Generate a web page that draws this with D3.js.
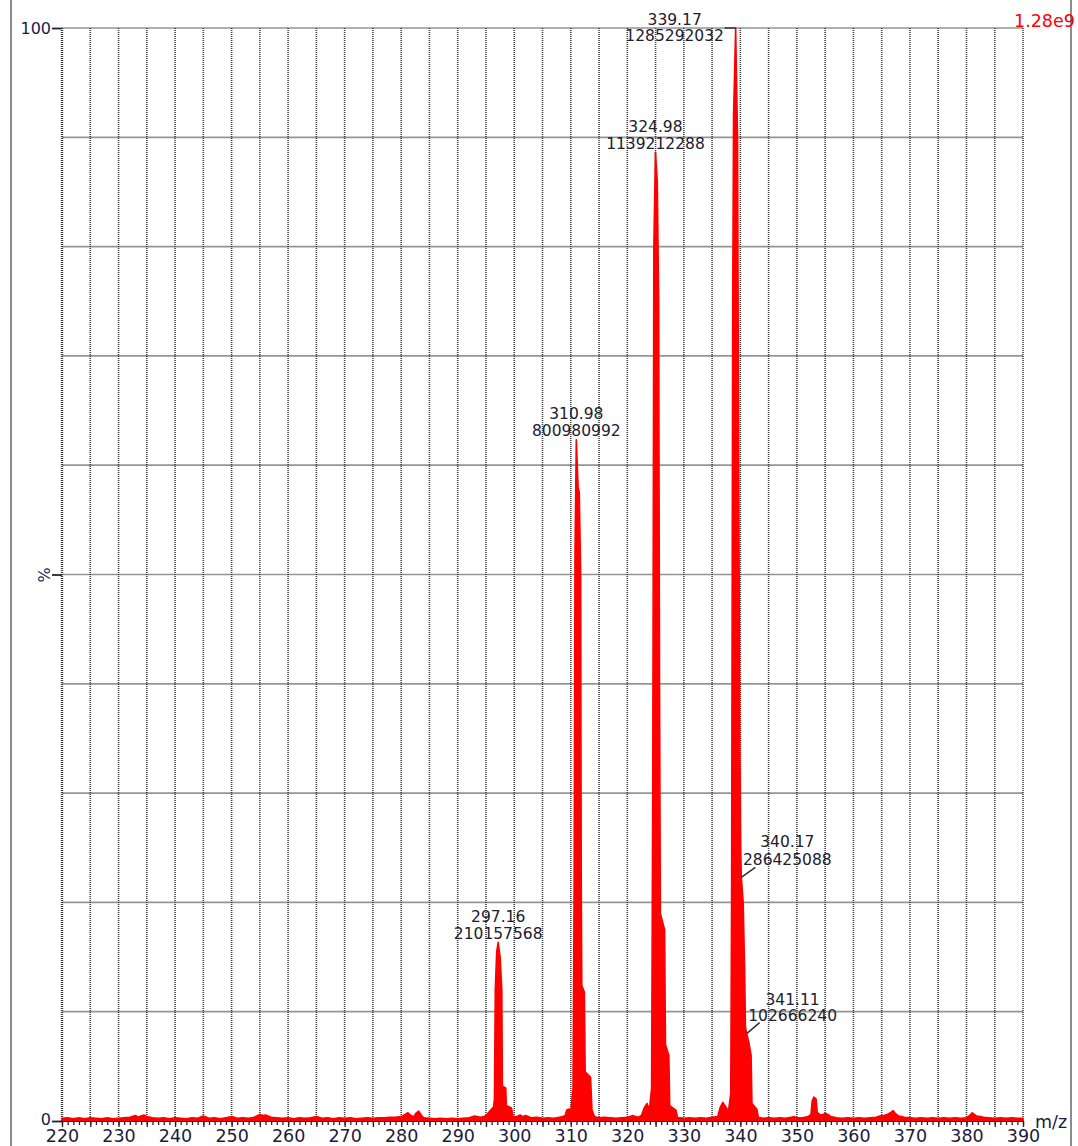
<!DOCTYPE html>
<html>
<head>
<meta charset="utf-8">
<script src="https://cdn.jsdelivr.net/npm/d3@7"></script>
<style>
  html, body { margin: 0; padding: 0; background: #ffffff; }
  svg { display: block; }
  text { font-family: "DejaVu Sans", Verdana, sans-serif; }
</style>
</head>
<body>
<svg id="chart" width="1078" height="1146"></svg>
<script>
// ---- Spectrum data (m/z, relative intensity %) ----
const basePeakIntensity = 1285292032;
const basePeakLabel = "1.28e9";

// Labelled centroid peaks: m/z and absolute intensity
const peakMz = [297.16, 310.98, 324.98, 339.17, 340.17, 341.11];
const peakIntensity = [210157568, 800980992, 1139212288, 1285292032, 286425088, 102666240];

// Profile trace, split into regions (apex points come from the peak list)
const baselineLow = [
  [220,0.25],[221,0.3],[222,0.2],[223,0.3],[224,0.2],[225,0.3],[226,0.25],[227,0.2],[228,0.3],[229,0.2],
  [230,0.25],[231,0.3],[232,0.35],[233,0.5],[233.5,0.35],[234,0.45],[234.5,0.55],[235,0.4],[236,0.3],[237,0.25],
  [238,0.3],[239,0.2],[240,0.3],[241,0.25],[242,0.2],[243,0.3],[244,0.25],[245,0.45],[246,0.25],[247,0.3],
  [248,0.2],[249,0.3],[250,0.4],[251,0.25],[252,0.3],[253,0.25],[254,0.35],[255,0.6],[255.5,0.5],[256,0.55],
  [257,0.35],[258,0.3],[259,0.25],[260,0.3],[261,0.2],[262,0.3],[263,0.25],[264,0.3],[265,0.4],[266,0.25],
  [267,0.3],[268,0.2],[269,0.3],[270,0.25],[271,0.3],[272,0.2],[273,0.25],[274,0.3],[275,0.25],[276,0.3],
  [277,0.3],[278,0.35],[279,0.35],[280,0.4],[280.7,0.6],[281.2,0.75],[281.7,0.5],[282.2,0.4],[282.7,0.75],[283.1,0.9],
  [283.6,0.5],[284,0.3],[285,0.25],[286,0.2],[287,0.25],[288,0.2],[289,0.25],[290,0.2],[291,0.25],[292,0.3],
  [293,0.45],[294,0.35],[294.6,0.4]
];
const cluster297 = [
  [295.0,0.5],[295.5,0.8],[296.0,1.1],[296.35,1.3],[296.5,2],[296.65,12],[296.9,15.5],
  [297.5,15],[297.8,12],[297.9,3.2],[298.5,3.0],[298.6,1.4],[299.5,1.2],[299.8,0.4]
];
const gap300 = [
  [300.5,0.4],[301,0.55],[301.5,0.4],[302,0.5],[303,0.3],[304,0.35],[305,0.25],[306,0.3],[307,0.25],[308,0.35],[308.6,0.4]
];
const cluster311 = [
  [309.0,0.5],[309.3,1.0],[309.7,1.1],[310.0,0.8],[310.4,3],[310.6,22],[310.75,52],
  [311.3,58],[311.5,57.5],[311.75,50],[311.85,22],[311.95,12.4],[312.4,11.8],[312.55,4.5],
  [313.5,4],[313.75,1.0],[314.2,0.4]
];
const gap315 = [
  [314.6,0.35],[315,0.3],[316,0.35],[317,0.3],[318,0.25],[319,0.3],[320,0.35],[321,0.5],[321.5,0.4],[322,0.35]
];
const cluster325 = [
  [322.5,0.5],[323.0,1.2],[323.5,1.6],[323.9,1.0],[324.3,3],[324.5,30],[324.7,80],
  [325.3,86],[325.55,75],[325.7,40],[325.85,19],[326.6,17.5],[326.75,7],[327.35,6],[327.5,1.4],
  [328.6,1.0],[328.9,0.3]
];
const gap330 = [
  [329.5,0.3],[330,0.25],[331,0.3],[332,0.25],[333,0.3],[334,0.25],[335,0.35]
];
const cluster339 = [
  [336.0,0.4],[336.4,1.2],[336.9,1.7],[337.4,1.3],[337.9,0.9],[338.3,2.5],[338.45,20],[338.65,75],[338.8,92],
  [339.5,90],[339.7,60],[339.9,35],[340.05,25],
  [340.5,20],[340.75,14],[340.9,8.6],
  [341.5,7.2],[341.9,6.0],[342.05,1.6],[342.9,1.1],[343.2,0.3]
];
const baselineHigh = [
  [343.6,0.3],[344,0.25],[345,0.3],[346,0.25],[347,0.3],[348,0.25],[349,0.35],[349.5,0.4],[350,0.3],[351,0.3],
  [352,0.4],[352.5,0.6],[352.7,1.8],[353.0,2.2],[353.4,2.0],[353.6,0.8],[354,0.6],[354.5,0.55],[355,0.7],[355.5,0.6],
  [356,0.4],[357,0.3],[358,0.25],[359,0.3],[360,0.25],[361,0.3],[362,0.25],[363,0.3],[364,0.35],[364.7,0.45],
  [365.3,0.5],[366,0.6],[366.7,0.8],[367.0,0.95],[367.4,0.7],[368,0.45],[368.5,0.4],[369,0.35],[370,0.3],[371,0.25],
  [372,0.3],[373,0.25],[374,0.3],[375,0.25],[376,0.3],[377,0.25],[378,0.3],[379,0.25],[380,0.3],[380.6,0.5],
  [381.0,0.75],[381.4,0.6],[381.8,0.45],[382.5,0.4],[383,0.35],[384,0.3],[385,0.25],[386,0.3],[387,0.25],[388,0.3],
  [389,0.25],[390,0.25]
];

// Axis tick values
const xLabelTicks = [220,230,240,250,260,270,280,290,300,310,320,330,340,350,360,370,380,390];
const yLabelTicks = [0, 50, 100];
const yLabelText = ["0", "%", "100"];

// ---- Layout ----
const svg = d3.select("#chart");
const W = 1078, H = 1146;
const x = d3.scaleLinear().domain([220, 390]).range([62, 1023]);
const y = d3.scaleLinear().domain([0, 100]).range([1121, 28]);

svg.append("rect").attr("width", W).attr("height", H).attr("fill", "#ffffff");

// outer frame lines
svg.append("line").attr("x1", 11).attr("x2", 11).attr("y1", 0).attr("y2", H)
  .attr("stroke", "#8c8c8c").attr("stroke-width", 2);
svg.append("line").attr("x1", 1071).attr("x2", 1071).attr("y1", 0).attr("y2", H)
  .attr("stroke", "#8c8c8c").attr("stroke-width", 2);

// grid: horizontal every 10 %, vertical dotted every 5 m/z
const grid = svg.append("g");
grid.selectAll("line.h").data(d3.range(0, 101, 10)).join("line")
  .attr("class", "h")
  .attr("x1", x(220)).attr("x2", x(390))
  .attr("y1", d => y(d)).attr("y2", d => y(d))
  .attr("stroke", "#959595").attr("stroke-width", 1.7);
grid.selectAll("line.v").data(d3.range(220, 391, 5)).join("line")
  .attr("class", "v")
  .attr("x1", d => x(d)).attr("x2", d => x(d))
  .attr("y1", y(100)).attr("y2", y(0))
  .attr("stroke", "#3c3c3c").attr("stroke-width", d => d === 220 ? 2.4 : 1.6)
  .attr("stroke-dasharray", "1,1");

// spectrum trace
const apexPoints = peakMz.map((m, i) => [m, peakIntensity[i] / basePeakIntensity * 100]);
const trace = [].concat(baselineLow, cluster297, gap300, cluster311, gap315, cluster325, gap330, cluster339, baselineHigh, apexPoints)
  .sort((a, b) => a[0] - b[0]);
const area = d3.area()
  .x(d => x(d[0]))
  .y0(y(0))
  .y1(d => y(d[1]));
svg.append("path").datum(trace)
  .attr("d", area)
  .attr("fill", "#ff0000")
  .attr("stroke", "#ff0000")
  .attr("stroke-width", 1.6)
  .attr("stroke-linejoin", "round");

// x axis: minor ticks every 1, major every 5, labels every 10
const axisColor = "#222233";
const xMinor = svg.append("g").attr("transform", `translate(0,${y(0)})`)
  .call(d3.axisBottom(x).tickValues(d3.range(220, 391, 1)).tickSize(4).tickFormat(""));
const xMajor = svg.append("g").attr("transform", `translate(0,${y(0)})`)
  .call(d3.axisBottom(x).tickValues(d3.range(220, 391, 5)).tickSize(6)
    .tickFormat(d => xLabelTicks.includes(d) ? d : ""));
[xMinor, xMajor].forEach(g => {
  g.select(".domain").attr("stroke", axisColor).attr("stroke-width", 1);
  g.selectAll(".tick line").attr("stroke", axisColor).attr("stroke-width", 1.3);
});
xMajor.selectAll(".tick text")
  .attr("y", 21).attr("dy", 0)
  .attr("font-family", "DejaVu Sans")
  .attr("font-size", 17.5)
  .attr("fill", "#1c1c3c");

svg.append("text")
  .attr("x", 1035).attr("y", 1128)
  .attr("font-size", 17.5).attr("fill", "#1c1c3c")
  .text("m/z");

// y axis: ticks at 0, 50 (%), 100
const yAxis = svg.append("g").attr("transform", `translate(${x(220)},0)`)
  .call(d3.axisLeft(y).tickValues(yLabelTicks).tickSize(10)
    .tickFormat(d => yLabelText[yLabelTicks.indexOf(d)]));
yAxis.select(".domain").remove();
yAxis.selectAll(".tick line").attr("stroke", axisColor).attr("stroke-width", 1.8);
yAxis.selectAll(".tick text")
  .attr("x", -11)
  .attr("font-family", "DejaVu Sans")
  .attr("font-size", 16)
  .attr("fill", "#1c1c4c");
yAxis.selectAll(".tick").filter(d => d === 0).select("text")
  .attr("y", -2);
yAxis.selectAll(".tick").filter(d => d === 50).select("text")
  .attr("transform", "rotate(-90)")
  .attr("x", 0).attr("y", -18)
  .attr("text-anchor", "middle")
  .attr("dy", "0.35em");

// base peak intensity in the top right corner
svg.append("text")
  .attr("x", 1014).attr("y", 21).attr("dy", "0.35em")
  .attr("font-size", 17.5).attr("fill", "#ff0000")
  .text(basePeakLabel);

// peak annotations
const labelLayout = {
  "339.17": { dx: -61, dy1: -8, dy2: 8, leader: [[-11, 0], [0, 0]] },
  "340.17": { dx: 46, dy1: -36, dy2: -18, leader: [[0, 0], [14, -10]] },
  "341.11": { dx: 46, dy1: -34, dy2: -18, leader: [[0, 0], [13, -11]] }
};
const defaultLayout = { dx: 0, dy1: -26, dy2: -9, leader: null };

const ann = svg.append("g").attr("fill", "#202030").attr("font-size", 15.5);
peakMz.forEach((m, i) => {
  const key = m.toFixed(2);
  const lay = labelLayout[key] || defaultLayout;
  const px = x(m), py = y(peakIntensity[i] / basePeakIntensity * 100);
  ann.append("text")
    .attr("x", px + lay.dx).attr("y", py + lay.dy1).attr("dy", "0.35em")
    .attr("text-anchor", "middle").text(key);
  ann.append("text")
    .attr("x", px + lay.dx).attr("y", py + lay.dy2).attr("dy", "0.35em")
    .attr("text-anchor", "middle").text(String(peakIntensity[i]));
  if (lay.leader) {
    ann.append("line")
      .attr("x1", px + lay.leader[0][0]).attr("y1", py + lay.leader[0][1])
      .attr("x2", px + lay.leader[1][0]).attr("y2", py + lay.leader[1][1])
      .attr("stroke", "#303030").attr("stroke-width", 1.5);
  }
});
</script>
</body>
</html>
